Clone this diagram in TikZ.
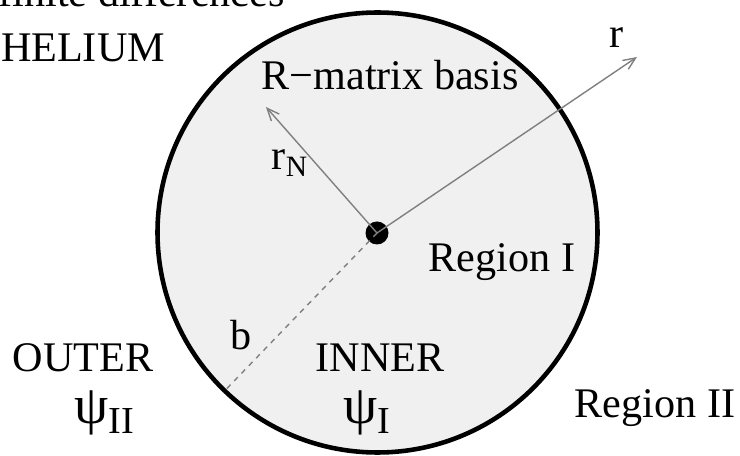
\documentclass[tikz,border=0pt]{standalone}
\usepackage{fontspec}
\setmainfont{Liberation Serif}
\usetikzlibrary{arrows.meta}
\tikzset{
  lbl/.style={font=\fontsize{24}{28}\selectfont, inner sep=0pt, anchor=base},
  psi/.style={font=\fontsize{31}{34}\selectfont, inner sep=0pt},
  ray/.style={draw=black!50, line width=0.8pt, -{Straight Barb[length=7pt,width=6pt]}}
}
\begin{document}
\begin{tikzpicture}[scale=1.0]
\useasboundingbox (0,0) rectangle (14.8,9.12);

\node[draw, circle, line width=2.6pt, fill=black!6, minimum size=8.8cm, inner sep=0pt] (inner) at (7.55,4.47) {};
\node[circle, fill=black, minimum size=0.46cm, inner sep=0pt] (nucleus) at (7.54,4.46) {};

\coordinate (rtip) at (12.74,7.98);
\coordinate (rNtip) at (5.32,6.98);
\coordinate (bend) at (inner.226);
\draw[ray] (nucleus.center) -- (rtip);
\draw[ray] (nucleus.center) -- (rNtip);
\draw[black!50, line width=0.8pt, dashed] (nucleus.center) -- (bend);

\node[lbl, anchor=base east] (method) at (5.7,8.98) {r finite differences};
\node[lbl] (helium) at (1.66,7.88) {HELIUM};
\node[lbl] (basis) at (7.8,7.32) {R−matrix basis};
\node[lbl] (rlabel) at (12.34,8.16) {r};
\node[lbl] (rNlabel) at (5.8,5.72) {r\textsubscript{N}};
\node[lbl] (reg1) at (10.04,3.68) {Region I};
\node[lbl] (blabel) at (4.82,2.12) {b};
\node[lbl] (outer) at (1.66,1.68) {OUTER};
\node[lbl] (innerlbl) at (7.6,1.68) {INNER};
\node[psi] (psiII) at (2.1,0.86) {ψ\textsubscript{II}};
\node[psi] (psiI) at (7.34,0.86) {ψ\textsubscript{I}};
\node[lbl] (reg2) at (13.1,0.76) {Region II};
\end{tikzpicture}
\end{document}
